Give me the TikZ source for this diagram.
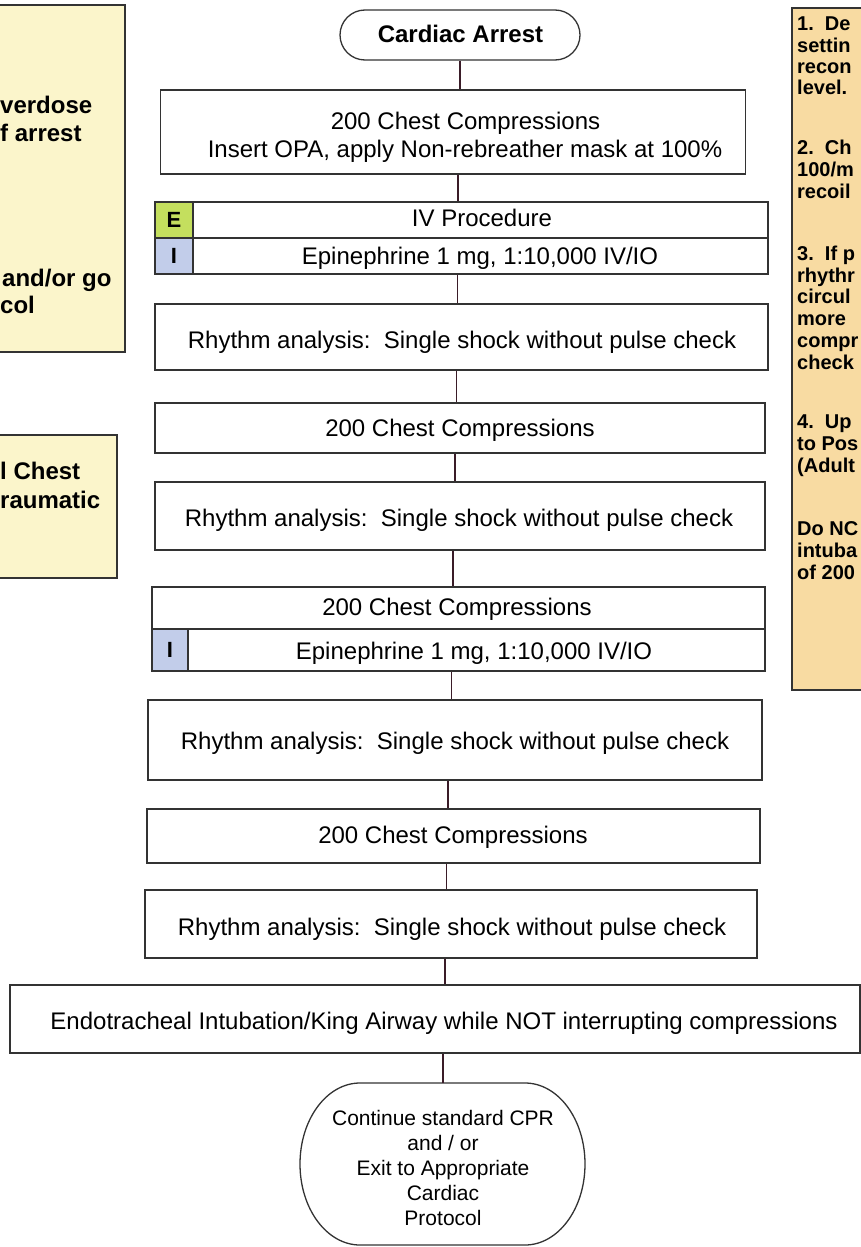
\documentclass[tikz,border=0pt]{standalone}
\usepackage{fontspec}
\setmainfont{Liberation Sans}
\usetikzlibrary{calc}
\definecolor{sideyel}{HTML}{FBF5CB}
\definecolor{sideorg}{HTML}{F8DBA2}
\definecolor{egreen}{HTML}{C4DF5E}
\definecolor{iblue}{HTML}{C2CDEA}
\definecolor{boxline}{HTML}{333333}
\definecolor{flowline}{HTML}{3A1C28}
\tikzset{
  flowbox/.style={draw=boxline, line width=1.3pt, fill=white, rectangle, inner sep=0pt},
  cellbox/.style={draw=boxline, line width=1.3pt, rectangle, inner sep=0pt},
  labcell/.style={cellbox, font=\bfseries\fontsize{22}{26}\selectfont},
  flowtext/.style={anchor=base, inner sep=0pt, font=\fontsize{24}{28}\selectfont},
  titletext/.style={anchor=base, inner sep=0pt, font=\bfseries\fontsize{24}{28}\selectfont},
  endtext/.style={anchor=base, inner sep=0pt, font=\fontsize{21}{25}\selectfont},
  sidebig/.style={anchor=mid west, inner sep=0pt, font=\bfseries\fontsize{24}{28}\selectfont},
  sidesmall/.style={anchor=mid west, inner sep=0pt, font=\bfseries\fontsize{20}{22}\selectfont},
  conn/.style={draw=flowline, line width=1.7pt},
  sideframe/.style={draw=boxline, line width=1.1pt}
}
\begin{document}
\begin{tikzpicture}[x=1pt,y=-1pt]
\useasboundingbox (0,0) rectangle (861,1247);
\fill[white] (0,0) rectangle (861,1247);

% left side boxes (cut by the page edge)
\fill[sideyel] (0,5) rectangle (125,352);
\draw[sideframe] (0,5) -- (125,5) -- (125,352) -- (0,352);
\node[sidebig] (l1) at (0,111) {verdose};
\node[sidebig] (l2) at (0,139) {f arrest};
\node[sidebig] (l3) at (2,284) {and/or go};
\node[sidebig] (l4) at (0,311) {col};

\fill[sideyel] (0,435) rectangle (117,578);
\draw[sideframe] (0,435) -- (117,435) -- (117,578) -- (0,578);
\node[sidebig] (l5) at (0,477) {l Chest};
\node[sidebig] (l6) at (0,506) {raumatic};

% right side box (cut by the page edge)
\fill[sideorg] (792,8) rectangle (861,690);
\draw[sideframe] (861,8) -- (792,8) -- (792,690) -- (861,690);
\node[sidesmall] (r1) at (797,28) {1.~~De};
\node[sidesmall] (r2) at (797,50) {settin};
\node[sidesmall] (r3) at (797,71) {recon};
\node[sidesmall] (r4) at (797,92) {level.};
\node[sidesmall] (r5) at (797,152) {2.~~Ch};
\node[sidesmall] (r6) at (797,174) {100/m};
\node[sidesmall] (r7) at (797,196) {recoil};
\node[sidesmall] (r8) at (797,258) {3.~~If p};
\node[sidesmall] (r9) at (797,280) {rhythr};
\node[sidesmall] (r10) at (797,301) {circul};
\node[sidesmall] (r11) at (797,323) {more};
\node[sidesmall] (r12) at (797,345) {compr};
\node[sidesmall] (r13) at (797,367) {check};
\node[sidesmall] (r14) at (797,426) {4.~~Up};
\node[sidesmall] (r15) at (797,448) {to Pos};
\node[sidesmall] (r16) at (797,470) {(Adult};
\node[sidesmall] (r17) at (797,533) {Do NC};
\node[sidesmall] (r18) at (797,555) {intuba};
\node[sidesmall] (r19) at (797,577) {of 200};

% main flow: boxes
\node[flowbox, rounded corners=25pt, minimum width=240pt, minimum height=50pt] (ca) at (460,35) {};
\node[titletext] (cat) at (460.5,42.5) {Cardiac Arrest};

\node[flowbox, minimum width=585pt, minimum height=84pt] (b1) at (453,132) {};
\node[flowtext] (b1t1) at (465.5,129.5) {200 Chest Compressions};
\node[flowtext] (b1t2) at (465,157.5) {Insert OPA, apply Non-rebreather mask at 100\%};

\node[flowbox, minimum width=613pt, minimum height=72pt] (b2) at (461.5,238) {};
\node[labcell, fill=egreen, minimum width=38pt, minimum height=36pt] (elab) at (174,220) {E};
\node[labcell, fill=iblue, minimum width=38pt, minimum height=36pt] (ilab1) at (174,256) {I};
\node[cellbox, minimum width=575pt, minimum height=36pt] (ivp) at (480.5,220) {};
\node[cellbox, minimum width=575pt, minimum height=36pt] (epi1) at (480.5,256) {};
\node[flowtext] (ivpt) at (482,226.5) {IV Procedure};
\node[flowtext] (epi1t) at (480,264) {Epinephrine 1 mg, 1:10,000 IV/IO};

\node[flowbox, minimum width=613pt, minimum height=66pt] (b3) at (461.5,337) {};
\node[flowtext] (b3t) at (462,348.5) {Rhythm analysis:~~Single shock without pulse check};

\node[flowbox, minimum width=610pt, minimum height=50pt] (b4) at (460,428) {};
\node[flowtext] (b4t) at (460,436) {200 Chest Compressions};

\node[flowbox, minimum width=610pt, minimum height=68pt] (b5) at (460,516) {};
\node[flowtext] (b5t) at (459,526) {Rhythm analysis:~~Single shock without pulse check};

\node[flowbox, minimum width=613pt, minimum height=84pt] (b6) at (458.5,629) {};
\node[cellbox, minimum width=613pt, minimum height=42pt] (cc3) at (458.5,608) {};
\node[labcell, fill=iblue, minimum width=36pt, minimum height=42pt] (ilab2) at (170,650) {I};
\node[cellbox, minimum width=577pt, minimum height=42pt] (epi2) at (476.5,650) {};
\node[flowtext] (cc3t) at (457,615) {200 Chest Compressions};
\node[flowtext] (epi2t) at (474,659) {Epinephrine 1 mg, 1:10,000 IV/IO};

\node[flowbox, minimum width=614pt, minimum height=80pt] (b7) at (455,740) {};
\node[flowtext] (b7t) at (455,749) {Rhythm analysis:~~Single shock without pulse check};

\node[flowbox, minimum width=613pt, minimum height=54pt] (b8) at (453.5,836) {};
\node[flowtext] (b8t) at (453,843) {200 Chest Compressions};

\node[flowbox, minimum width=612pt, minimum height=68pt] (b9) at (451,924) {};
\node[flowtext] (b9t) at (452,935) {Rhythm analysis:~~Single shock without pulse check};

\node[flowbox, minimum width=850pt, minimum height=68pt] (b10) at (435,1019) {};
\node[flowtext] (b10t) at (444,1029) {Endotracheal Intubation/King Airway while NOT interrupting compressions};

% terminal
\node[inner sep=0pt, minimum width=285pt, minimum height=162pt] (endn) at (442.5,1164) {};
\draw[draw=boxline, line width=1.3pt]
  (360,1083) -- (525,1083) .. controls (558,1083) and (585,1119) .. (585,1164)
  .. controls (585,1209) and (558,1245) .. (525,1245) -- (360,1245)
  .. controls (327,1245) and (300,1209) .. (300,1164)
  .. controls (300,1119) and (327,1083) .. (360,1083) -- cycle;
\node[endtext] (e1) at (443,1125) {Continue standard CPR};
\node[endtext] (e2) at (443,1150) {and / or};
\node[endtext] (e3) at (443,1175) {Exit to Appropriate};
\node[endtext] (e4) at (443,1200) {Cardiac};
\node[endtext] (e5) at (443,1225) {Protocol};

% connectors
\draw[conn] (ca.south) -- (ca.south |- b1.north);
\draw[conn] ([xshift=5pt]b1.south) -- ([xshift=5pt]b1.south |- b2.north);
\draw[conn] ([xshift=-4pt]b2.south) -- ([xshift=-4pt]b2.south |- b3.north);
\draw[conn] ([xshift=-5pt]b3.south) -- ([xshift=-5pt]b3.south |- b4.north);
\draw[conn] ([xshift=-5pt]b4.south) -- ([xshift=-5pt]b4.south |- b5.north);
\draw[conn] ([xshift=-7pt]b5.south) -- ([xshift=-7pt]b5.south |- b6.north);
\draw[conn] ([xshift=-7pt]b6.south) -- ([xshift=-7pt]b6.south |- b7.north);
\draw[conn] ([xshift=-7pt]b7.south) -- ([xshift=-7pt]b7.south |- b8.north);
\draw[conn] ([xshift=-7pt]b8.south) -- ([xshift=-7pt]b8.south |- b9.north);
\draw[conn] ([xshift=-6pt]b9.south) -- ([xshift=-6pt]b9.south |- b10.north);
\draw[conn] ([xshift=8pt]b10.south) -- ([xshift=8pt]b10.south |- endn.north);
\end{tikzpicture}
\end{document}
